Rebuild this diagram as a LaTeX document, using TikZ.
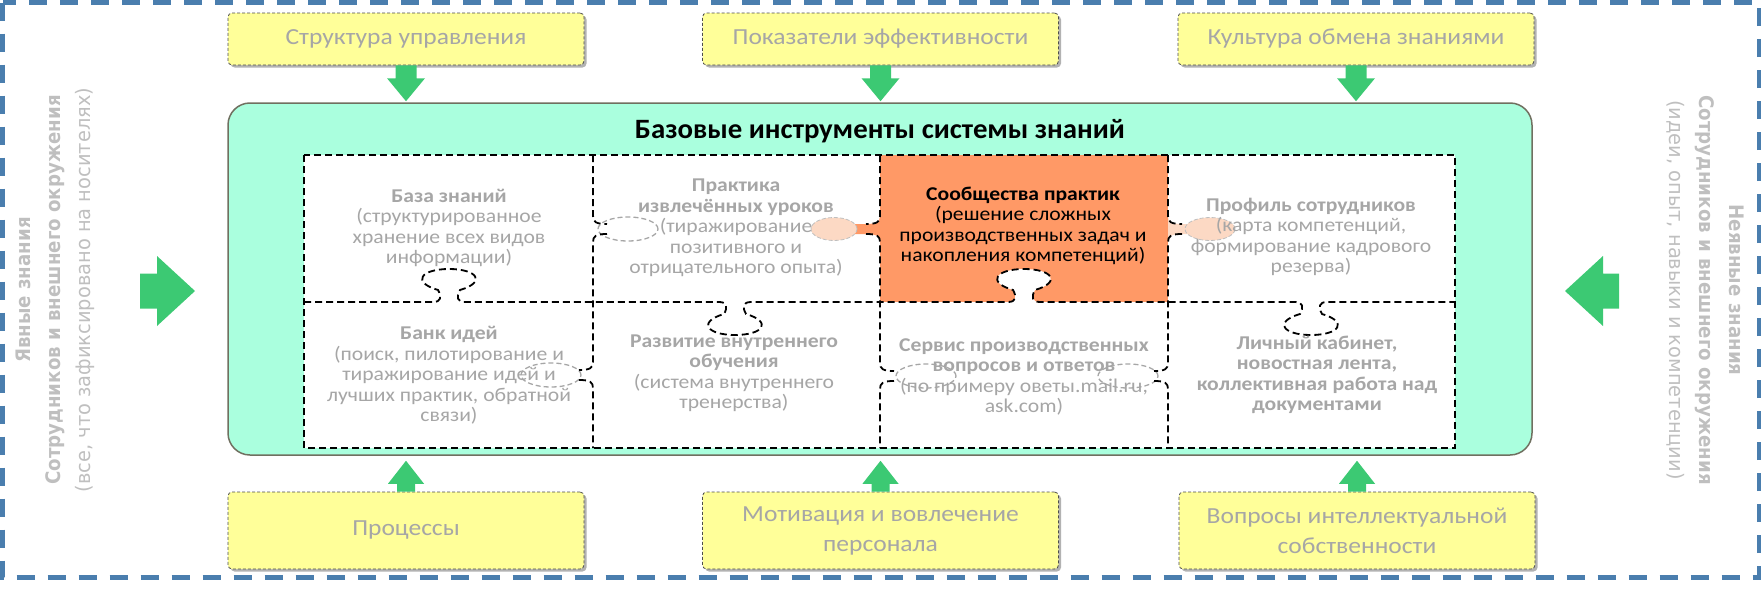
\documentclass[tikz,border=0pt]{standalone}
\usepackage{fontspec}
\setmainfont{Carlito}[FakeStretch=1.11]
\newfontfamily\titlefont{Carlito}[FakeStretch=1.03]
\newfontfamily\sidefontb{DejaVu Sans Bold}[FakeStretch=0.91]
\newfontfamily\sidefontr{DejaVu Sans}[FakeStretch=0.97]
\usetikzlibrary{calc,shadows}
\definecolor{frameblue}{RGB}{74,126,174}
\definecolor{boxyellow}{RGB}{255,255,153}
\definecolor{txtgray}{RGB}{166,166,166}
\definecolor{sidegray}{RGB}{191,191,191}
\definecolor{arrgreen}{RGB}{60,201,115}
\definecolor{mainfill}{RGB}{170,255,222}
\definecolor{mainborder}{RGB}{112,112,96}
\definecolor{cellorange}{RGB}{255,153,102}
\definecolor{peach}{RGB}{252,217,196}
\tikzset{
  ybox/.style={draw=black!70, dash pattern=on 3pt off 2pt, line width=0.8pt,
    fill=boxyellow, rounded corners=4pt, minimum width=356pt, text=txtgray,
    font=\fontsize{23}{30}\selectfont, align=center,
    drop shadow={shadow xshift=2.5pt, shadow yshift=-2.5pt, fill=black, opacity=0.3}},
  cellt/.style={text=txtgray, font=\fontsize{19.5}{20.5}\selectfont, align=center, inner sep=0pt},
  gridline/.style={draw=black, line width=1.8pt, dash pattern=on 7pt off 4pt},
  headgray/.style={draw=black!35, dash pattern=on 5pt off 3pt, line width=1.3pt},
  headpeach/.style={fill=peach, draw=black!25, dash pattern=on 4pt off 2pt, line width=0.8pt},
  sidet/.style={text=sidegray, align=center, inner sep=0pt},
  hk/.style n args={3}{insert path={-- ({#1-16},#2) .. controls ({#1-8},#2) and ({#1-7},{#2+5*(#3)}) .. ({#1-11},{#2+12*(#3)}) .. controls ({#1-38},{#2+20*(#3)}) and ({#1-28},{#2+33*(#3)}) .. (#1,{#2+33*(#3)}) .. controls ({#1+28},{#2+33*(#3)}) and ({#1+38},{#2+20*(#3)}) .. ({#1+11},{#2+12*(#3)}) .. controls ({#1+7},{#2+5*(#3)}) and ({#1+8},#2) .. ({#1+16},#2)}},
  vk/.style n args={3}{insert path={-- (#1,{#2-13}) .. controls (#1,{#2-7}) and ({#1+3*(#3)},{#2-5}) .. ({#1+14*(#3)},{#2-5}) ({#1+14*(#3)},{#2+5}) .. controls ({#1+3*(#3)},{#2+5}) and (#1,{#2+7}) .. (#1,{#2+13})}},
}
\begin{document}
\begin{tikzpicture}[x=1pt,y=-1pt]
\useasboundingbox (0,0) rectangle (1762,589);
% outer frame
\draw[frameblue, line width=4.5pt, dash pattern=on 18pt off 13pt] (2.5,2.5) rectangle (1759,577.5);
% top boxes
\node[ybox, minimum height=52pt] (top1) at (406,39) {Структура управления};
\node[ybox, minimum height=52pt] (top2) at (880.5,39) {Показатели эффективности};
\node[ybox, minimum height=52pt] (top3) at (1356,39) {Культура обмена знаниями};
% bottom boxes
\node[ybox, minimum height=77pt] (bot1) at (406,530.5) {Процессы};
\node[ybox, minimum height=77pt] (bot2) at (880.5,530.5) {Мотивация и вовлечение\\персонала};
\node[ybox, minimum height=77pt] (bot3) at (1357,530.5) {Вопросы интеллектуальной\\собственности};
% main box
\node[draw=mainborder, line width=1.5pt, fill=mainfill, rounded corners=22pt,
      minimum width=1304pt, minimum height=352pt] (main) at (880,279) {};
\node[font=\titlefont\bfseries\fontsize{28}{30}\selectfont] (title) at (880,131) {Базовые инструменты системы знаний};
% grid background
\fill[white] (304,155) rectangle (1455,448);
\fill[cellorange] (880,155) rectangle (1168,302);
\fill[white] (1008,302) [hk={1024}{302}{-1}] -- cycle;
% orange tabs
\fill[cellorange] (880,216) .. controls (880,222) and (876,224) .. (866,224) -- (852,224) -- (852,234) -- (866,234) .. controls (876,234) and (880,236) .. (880,242) -- cycle;
\path[headpeach] (834,229) ellipse [x radius=23pt, y radius=11.5pt];
\fill[peach] (1168,216) .. controls (1168,222) and (1172,224) .. (1182,224) -- (1190,224) -- (1190,234) -- (1182,234) .. controls (1172,234) and (1168,236) .. (1168,242) -- cycle;
\path[headpeach] (1210,229) ellipse [x radius=25pt, y radius=11.5pt];
% gray tab heads
\draw[headgray] (628,229) ellipse [x radius=30pt, y radius=12pt];
\draw[headgray] (551,375) ellipse [x radius=30pt, y radius=12pt];
\draw[headgray] (926,376) ellipse [x radius=30pt, y radius=12pt];
\draw[headgray] (1128,376) ellipse [x radius=30pt, y radius=12pt];
% grid lines
\draw[gridline] (304,155) rectangle (1455,448);
\draw[gridline] (304,302) [hk={449}{302}{-1}] [hk={735}{302}{1}] [hk={1024}{302}{-1}] [hk={1311}{302}{1}] -- (1455,302);
\draw[gridline] (593,155) [vk={593}{229}{1}] [vk={593}{375}{-1}] -- (593,448);
\draw[gridline] (880,155) [vk={880}{229}{-1}] [vk={880}{376}{1}] -- (880,448);
\draw[gridline] (1168,155) [vk={1168}{229}{1}] [vk={1168}{376}{-1}] -- (1168,448);
% cell texts
\node[cellt] (c1) at (449,228) {\textbf{База знаний}\\(структурированное\\хранение всех видов\\информации)};
\node[cellt] (c2) at (736,228) {\textbf{Практика}\\\textbf{извлечённых уроков}\\(тиражирование\\позитивного и\\отрицательного опыта)};
\node[cellt, text=black] (c3) at (1023,226) {\textbf{Сообщества практик}\\(решение сложных\\производственных задач и\\накопления компетенций)};
\node[cellt] (c4) at (1311,237) {\textbf{Профиль сотрудников}\\(карта компетенций,\\формирование кадрового\\резерва)};
\node[cellt] (c5) at (449,375.5) {\textbf{Банк идей}\\(поиск, пилотирование и\\тиражирование идей и\\лучших практик, обратной\\связи)};
\node[cellt] (c6) at (734,373) {\textbf{Развитие внутреннего}\\\textbf{обучения}\\(система внутреннего\\тренерства)};
\node[cellt] (c7) at (1024,377) {\textbf{Сервис производственных}\\\textbf{вопросов и ответов}\\(по примеру оветы.mail.ru,\\ask.com)};
\node[cellt, font=\bfseries\fontsize{19.5}{20.5}\selectfont] (c8) at (1317,375) {Личный кабинет,\\новостная лента,\\коллективная работа над\\документами};
% side texts
\node[sidet, rotate=90, font=\fontsize{20}{30}\selectfont] (lt) at (55,290)
  {{\sidefontb Явные знания}\\{\sidefontb Сотрудников и внешнего окружения}\\{\sidefontr (все, что зафиксировано на носителях)}};
\node[sidet, rotate=-90, font=\fontsize{20}{30}\selectfont] (rt) at (1705,290)
  {{\sidefontb Неявные знания}\\{\sidefontb Сотрудников и внешнего окружения}\\{\sidefontr (идеи, опыт, навыки и компетенции)}};
% block arrows
\foreach \nm in {top1,top2,top3}{
  \fill[arrgreen] let \p1=(\nm.south), \p2=(main.north) in
    (\x1-10.5pt,\y1) -- (\x1+10.5pt,\y1) -- (\x1+10.5pt,\y2+24pt) -- (\x1+19pt,\y2+24pt)
    -- (\x1,\y2+1pt) -- (\x1-19pt,\y2+24pt) -- (\x1-10.5pt,\y2+24pt) -- cycle;
}
\foreach \nm in {bot1,bot2,bot3}{
  \fill[arrgreen] let \p1=(\nm.north), \p2=(main.south) in
    (\x1-9pt,\y1) -- (\x1+9pt,\y1) -- (\x1+9pt,\y2-28pt) -- (\x1+18pt,\y2-28pt)
    -- (\x1,\y2-5pt) -- (\x1-18pt,\y2-28pt) -- (\x1-9pt,\y2-28pt) -- cycle;
}
\coordinate (la0) at (140,291);
\coordinate (la1) at (195,291);
\coordinate (ra0) at (1619,291);
\coordinate (ra1) at (1565,291);
\fill[arrgreen] let \p1=(la0), \p2=(la1) in
  (\x1,\y1+17.5pt) -- (\x2-38pt,\y1+17.5pt) -- (\x2-38pt,\y1+35pt) -- (\x2,\y2)
  -- (\x2-38pt,\y1-35pt) -- (\x2-38pt,\y1-17.5pt) -- (\x1,\y1-17.5pt) -- cycle;
\fill[arrgreen] let \p1=(ra0), \p2=(ra1) in
  (\x1,\y1+17.5pt) -- (\x2+38pt,\y1+17.5pt) -- (\x2+38pt,\y1+35pt) -- (\x2,\y2)
  -- (\x2+38pt,\y1-35pt) -- (\x2+38pt,\y1-17.5pt) -- (\x1,\y1-17.5pt) -- cycle;
\end{tikzpicture}
\end{document}
